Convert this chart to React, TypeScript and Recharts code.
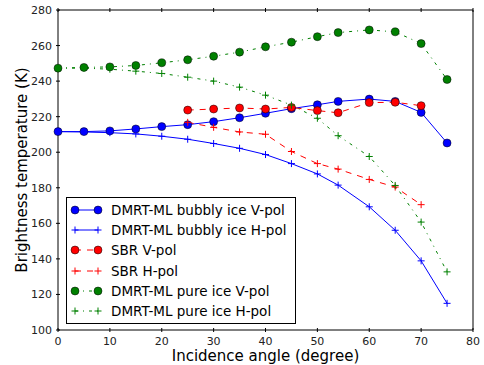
import { LineChart, Line, XAxis, YAxis, Legend } from 'recharts';

// incidence angles (degree)
const angles = [0, 5, 10, 15, 20, 25, 30, 35, 40, 45, 50, 54, 60, 65, 70, 75];

// brightness temperatures (K), one value per angle (null = no sample)
const bubblyV = [211.6, 211.6, 212.0, 213.1, 214.4, 215.5, 217.2, 219.4, 221.9, 224.5, 226.7, 228.6, 229.9, 228.6, 222.4, 205.2];
const bubblyH = [211.6, 211.4, 211.0, 210.3, 209.0, 207.3, 204.9, 202.2, 198.7, 193.6, 187.8, 181.5, 169.3, 156.1, 138.9, 115.0];
const sbrV = [null, null, null, null, null, 223.7, 224.3, 224.9, 224.3, 225.2, 223.4, 222.2, 227.9, 228.1, 226.2, null];
const sbrH = [null, null, null, null, null, 216.8, 214.0, 211.4, 210.1, 200.4, 193.6, 190.5, 184.7, 180.4, 170.5, null];
const pureV = [247.3, 247.7, 248.0, 248.8, 250.3, 252.0, 254.0, 256.3, 259.3, 261.9, 265.0, 267.3, 268.8, 267.7, 261.1, 240.9];
const pureH = [247.3, 247.3, 246.7, 245.6, 244.3, 242.2, 240.0, 236.6, 232.1, 226.5, 219.1, 209.3, 197.6, 181.3, 160.7, 132.7];

const xTicks = [0, 10, 20, 30, 40, 50, 60, 70, 80];
const yTicks = [100, 120, 140, 160, 180, 200, 220, 240, 260, 280];

const FONT = '"DejaVu Sans", sans-serif';

const series = [
  { key: 'bubblyV', name: 'DMRT-ML bubbly ice V-pol', color: '#0000ff', dash: undefined, marker: 'o', values: bubblyV },
  { key: 'bubblyH', name: 'DMRT-ML bubbly ice H-pol', color: '#0000ff', dash: undefined, marker: '+', values: bubblyH },
  { key: 'sbrV', name: 'SBR V-pol', color: '#ff0000', dash: '6 6', marker: 'o', values: sbrV },
  { key: 'sbrH', name: 'SBR H-pol', color: '#ff0000', dash: '6 6', marker: '+', values: sbrH },
  { key: 'pureV', name: 'DMRT-ML pure ice V-pol', color: '#008000', dash: '3 5 1 5', marker: 'o', values: pureV },
  { key: 'pureH', name: 'DMRT-ML pure ice H-pol', color: '#008000', dash: '3 5 1 5', marker: '+', values: pureH },
];

const rows = angles.map((a, i) => {
  const row: Record<string, number | null> = { angle: a };
  series.forEach((s) => {
    row[s.key] = s.values[i];
  });
  return row;
});

function Marker({ cx, cy, shape, color }: { cx: number; cy: number; shape: string; color: string }) {
  if (cx == null || cy == null || isNaN(cx) || isNaN(cy)) return null;
  if (shape === 'o') {
    return <circle cx={cx} cy={cy} r={4} fill={color} stroke="#000" strokeWidth={0.5} />;
  }
  return (
    <path
      d={`M${cx - 3.5},${cy}h7M${cx},${cy - 3.5}v7`}
      stroke={color}
      strokeWidth={1}
      fill="none"
    />
  );
}

// matplotlib-style ticks: pointing inward, labels only on bottom / left
const BottomTick = (props: any) => {
  const { x, y, payload } = props;
  return (
    <g>
      <line x1={x} y1={y} x2={x} y2={y - 4} stroke="#000" strokeWidth={1} />
      <text x={x} y={y + 13} textAnchor="middle" fontSize={11} fontFamily={FONT} fill="#222">
        {payload.value}
      </text>
    </g>
  );
};

const TopTick = (props: any) => {
  const { x, y } = props;
  return <line x1={x} y1={y} x2={x} y2={y + 4} stroke="#000" strokeWidth={1} />;
};

const LeftTick = (props: any) => {
  const { x, y, payload } = props;
  return (
    <g>
      <line x1={x} y1={y} x2={x + 4} y2={y} stroke="#000" strokeWidth={1} />
      <text x={x - 4} y={y} dy="0.36em" textAnchor="end" fontSize={11} fontFamily={FONT} fill="#222">
        {payload.value}
      </text>
    </g>
  );
};

const RightTick = (props: any) => {
  const { x, y } = props;
  return <line x1={x} y1={y} x2={x - 4} y2={y} stroke="#000" strokeWidth={1} />;
};

function LegendBox() {
  return (
    <div
      style={{
        border: '1px solid #000',
        background: '#fff',
        boxSizing: 'border-box',
        width: 230,
        height: 127,
        paddingTop: 2,
        fontFamily: FONT,
        fontSize: 13.5,
        color: '#000',
      }}
    >
      {series.map((s) => (
        <div key={s.key} style={{ display: 'flex', alignItems: 'center', height: 20.2 }}>
          <svg width={44} height={20} style={{ flexShrink: 0 }}>
            <line x1={8} y1={10} x2={31} y2={10} stroke={s.color} strokeWidth={1} strokeDasharray={s.dash} />
            <Marker cx={8} cy={10} shape={s.marker} color={s.color} />
            <Marker cx={31} cy={10} shape={s.marker} color={s.color} />
          </svg>
          <span style={{ whiteSpace: 'nowrap' }}>{s.name}</span>
        </div>
      ))}
    </div>
  );
}

export default function App() {
  return (
    <div style={{ position: 'absolute', left: 0, top: 0, width: 484, height: 365, background: '#fff' }}>
      <LineChart width={484} height={365} data={rows} margin={{ top: 9, right: 10, bottom: 0, left: 0 }}>
        <XAxis
          xAxisId="b"
          dataKey="angle"
          type="number"
          domain={[0, 80]}
          ticks={xTicks}
          orientation="bottom"
          height={35}
          tickSize={0}
          tickLine={false}
          tick={<BottomTick />}
          axisLine={{ stroke: '#000', strokeWidth: 1 }}
          interval={0}
          label={{
            value: 'Incidence angle (degree)',
            position: 'insideBottom',
            offset: 4,
            fontSize: 15,
            fontFamily: FONT,
            fill: '#000',
          }}
        />
        <XAxis
          xAxisId="t"
          dataKey="angle"
          type="number"
          domain={[0, 80]}
          ticks={xTicks}
          orientation="top"
          height={1}
          tickSize={0}
          tickLine={false}
          tick={<TopTick />}
          axisLine={{ stroke: '#000', strokeWidth: 1 }}
          interval={0}
        />
        <YAxis
          yAxisId="l"
          type="number"
          domain={[100, 280]}
          ticks={yTicks}
          orientation="left"
          width={58}
          tickSize={0}
          tickLine={false}
          tick={<LeftTick />}
          axisLine={{ stroke: '#000', strokeWidth: 1 }}
          interval={0}
          label={{
            value: 'Brightness temperature (K)',
            angle: -90,
            position: 'insideLeft',
            offset: 22,
            style: { textAnchor: 'middle' },
            fontSize: 15,
            fontFamily: FONT,
            fill: '#000',
          }}
        />
        <YAxis
          yAxisId="r"
          type="number"
          domain={[100, 280]}
          ticks={yTicks}
          orientation="right"
          width={1}
          tickSize={0}
          tickLine={false}
          tick={<RightTick />}
          axisLine={{ stroke: '#000', strokeWidth: 1 }}
          interval={0}
        />
        <Legend
          layout="vertical"
          align="center"
          verticalAlign="middle"
          content={<LegendBox />}
          wrapperStyle={{ left: 66, top: 197, width: 230, height: 127 }}
        />
        {series.map((s) => (
          <Line
            key={s.key}
            xAxisId="b"
            yAxisId="l"
            dataKey={s.key}
            name={s.name}
            type="linear"
            stroke={s.color}
            strokeWidth={1}
            strokeDasharray={s.dash}
            isAnimationActive={false}
            connectNulls={false}
            dot={(p: any) => <Marker key={p.key ?? `${s.key}-${p.index}`} cx={p.cx} cy={p.cy} shape={s.marker} color={s.color} />}
            activeDot={false}
          />
        ))}
      </LineChart>
    </div>
  );
}
